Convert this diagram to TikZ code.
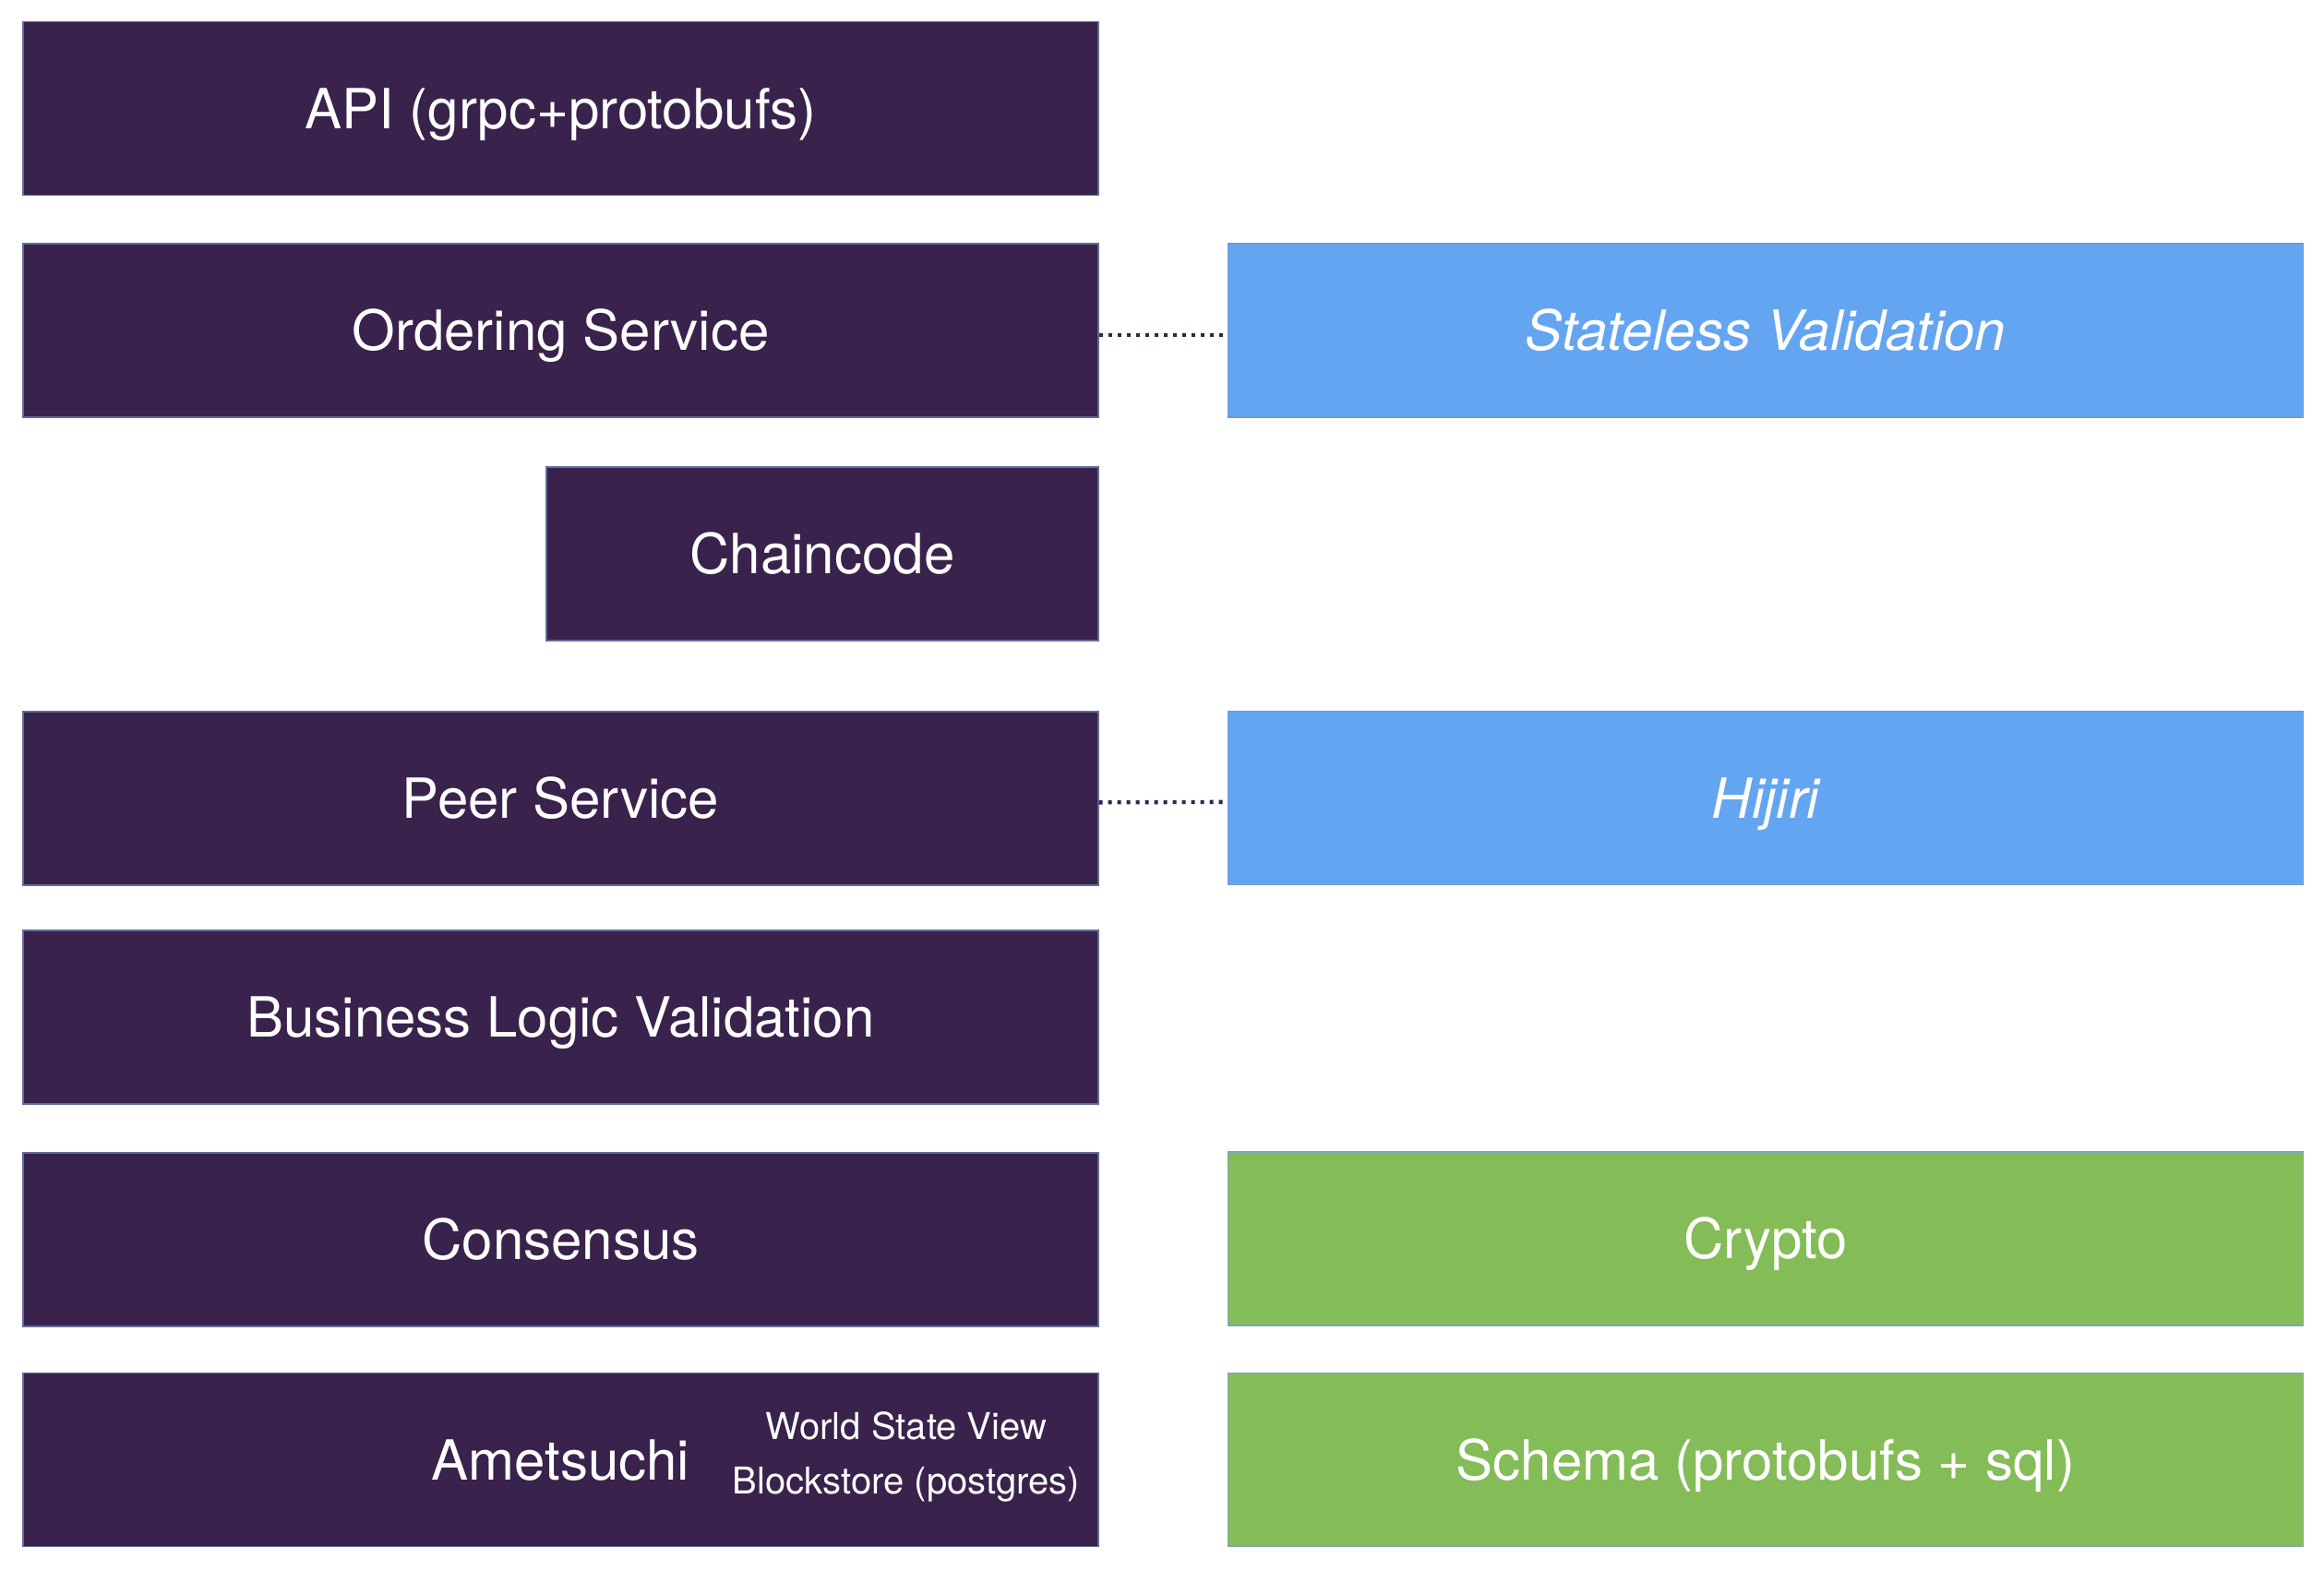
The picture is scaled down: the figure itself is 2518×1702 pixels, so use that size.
\documentclass[tikz,border=0pt]{standalone}
\usepackage{fontspec}
\setmainfont{TeX Gyre Heros}
\definecolor{purp}{RGB}{57,34,75}
\definecolor{purpedge}{RGB}{96,108,158}
\definecolor{bluebox}{RGB}{100,165,242}
\definecolor{blueedge}{RGB}{110,155,215}
\definecolor{greenbox}{RGB}{132,188,87}
\definecolor{greenedge}{RGB}{125,165,190}
\begin{document}
\begin{tikzpicture}[x=0.3pt,y=-0.3pt,
  box/.style={rectangle,inner sep=0pt,line width=0.35pt,text=white,
    font=\fontsize{18}{21}\selectfont,text height=12.9pt,text depth=0pt,
    minimum height=56.4pt},
  dbox/.style={box,fill=purp,draw=purpedge},
  bbox/.style={box,fill=bluebox,draw=blueedge,font=\fontsize{18}{21}\selectfont\itshape},
  gbox/.style={box,fill=greenbox,draw=greenedge},
  wide/.style={minimum width=349.5pt},
  small/.style={text=white,inner sep=0pt,font=\fontsize{12}{14}\selectfont,anchor=base},
  conn/.style={draw=purp,line width=1.3pt,dash pattern=on 1.2pt off 1.8pt}]
\useasboundingbox (0,0) rectangle (2518,1702);
\node[dbox,wide] (api) at (607.5,117.5) {API (grpc+protobufs)};
\node[dbox,wide] (ord) at (607.5,358) {Ordering Service};
\node[dbox,minimum width=179.4pt] (chain) at (891,600) {Chaincode};
\node[dbox,wide] (peer) at (607.5,865) {Peer Service};
\node[dbox,wide] (blv) at (607.5,1102) {Business Logic Validation};
\node[dbox,wide] (cons) at (607.5,1343) {Consensus};
\node[dbox,wide] (amet) at (607.5,1581.5) {Ametsuchi};
\node[small] (wsv) at (982,1559) {World State View};
\node[small] (bls) at (982,1618) {Blockstore (postgres)};
\node[bbox,wide] (stl) at (1913,358) {Stateless Validation};
\node[bbox,wide] (hij) at (1913,864.5) {Hijiri};
\node[gbox,wide] (cry) at (1913,1342) {Crypto};
\node[gbox,wide] (sch) at (1913,1581.5) {Schema (protobufs + sql)};
\draw[conn] ([yshift=-1.5pt]ord.east) -- ([yshift=-1.5pt]stl.west);
\draw[conn] ([yshift=-1.3pt]peer.east) -- ([yshift=-1.3pt]hij.west);
\end{tikzpicture}
\end{document}
